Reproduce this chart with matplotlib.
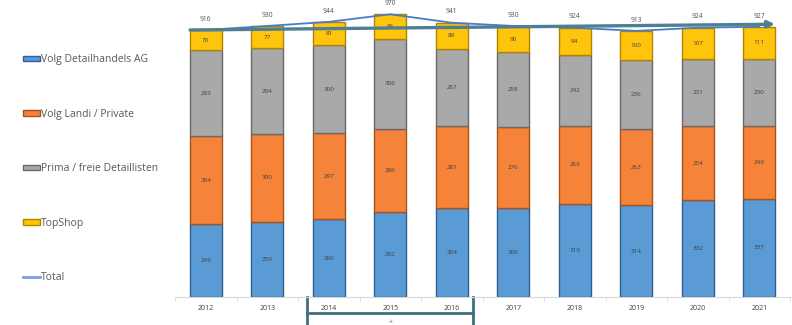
import numpy as np
import matplotlib
matplotlib.use('Agg')
import matplotlib.pyplot as plt
from matplotlib.lines import Line2D
from matplotlib.patches import Patch

plt.rcParams['font.family'] = ['Open Sans', 'DejaVu Sans']

years = ['2012', '2013', '2014', '2015', '2016', '2017', '2018', '2019', '2020', '2021']
volg_detail = [249, 259, 266, 292, 304, 306, 319, 314, 332, 337]
volg_landi = [304, 300, 297, 286, 281, 276, 269, 263, 254, 249]
prima = [293, 294, 300, 306, 267, 258, 242, 236, 231, 230]
topshop = [70, 77, 81, 86, 89, 90, 94, 100, 107, 111]
totals = [916, 930, 944, 970, 941, 930, 924, 913, 924, 927]

series = [
    ('Volg Detailhandels AG', volg_detail, '#5b9bd5', '#2f5f8f'),
    ('Volg Landi / Private', volg_landi, '#f5843a', '#a85218'),
    ('Prima / freie Detaillisten', prima, '#a9a9a9', '#6a6a6a'),
    ('TopShop', topshop, '#ffc40c', '#b08600'),
]

fig = plt.figure(figsize=(7.92, 3.25), dpi=100)
ax = fig.add_axes([175 / 792, 28 / 325, 615 / 792, 297 / 325])

x = np.arange(len(years))
bottom = np.zeros(len(years))
handles = []
for name, vals, col, edge in series:
    vals = np.array(vals)
    ax.bar(x, vals, 0.52, bottom=bottom, color=col, edgecolor=edge,
           linewidth=1.0, zorder=3)
    for xi, b, v in zip(x, bottom, vals):
        ax.text(xi, b + v / 2, str(v), ha='center', va='center',
                fontsize=4.5, color='#404040', zorder=5)
    handles.append(Patch(facecolor=col, edgecolor=edge, label=name))
    bottom = bottom + vals

# total line with labels
ax.plot(x, totals, color='#4a7cc4', lw=1.3, zorder=6)
for xi, t in zip(x, totals):
    ax.text(xi, t + 25, str(t), ha='center', va='bottom', fontsize=4.8,
            color='#505050', zorder=6)
handles.append(Line2D([0], [0], color='#7f9fd6', lw=2, label='Total'))

# trend arrow over the totals
ax.annotate('', xy=(9.3, 936), xytext=(-0.3, 916),
            arrowprops=dict(arrowstyle='-|>', color='#4f7f95', lw=2.4,
                            mutation_scale=10), zorder=7)

ax.set_xlim(-0.345, 9.3)
ax.set_ylim(0, 1019)
ax.set_xticks(x)
ax.set_xticklabels(years, fontsize=5, color='#404040')
ax.tick_params(axis='x', length=0, pad=6)
ax.set_xticks(np.arange(-0.5, 10, 1), minor=True)
ax.tick_params(axis='x', which='minor', length=3, color='#d9d9d9')
ax.set_yticks([])
for s in ['top', 'right', 'left']:
    ax.spines[s].set_visible(False)
ax.spines['bottom'].set_color('#d9d9d9')

# bracket below 2014-2016
bcol = '#3f6f82'
ax.plot([1.65, 1.65], [0, -120], color=bcol, lw=2, clip_on=False)
ax.plot([4.35, 4.35], [0, -120], color=bcol, lw=2, clip_on=False)
ax.plot([1.65, 4.35], [-55, -55], color=bcol, lw=2, clip_on=False)
ax.text(3.0, -88, '+', ha='center', va='center', fontsize=5,
        color=bcol, clip_on=False)

fig.legend(handles=handles, loc='upper left', bbox_to_anchor=(18 / 792, 1 - 49 / 325),
           frameon=False, fontsize=7.5, labelcolor='#595959',
           handlelength=1.6, handleheight=0.45, handletextpad=0.1,
           labelspacing=4.18, borderpad=0)

fig.savefig('out.png', dpi=100)
